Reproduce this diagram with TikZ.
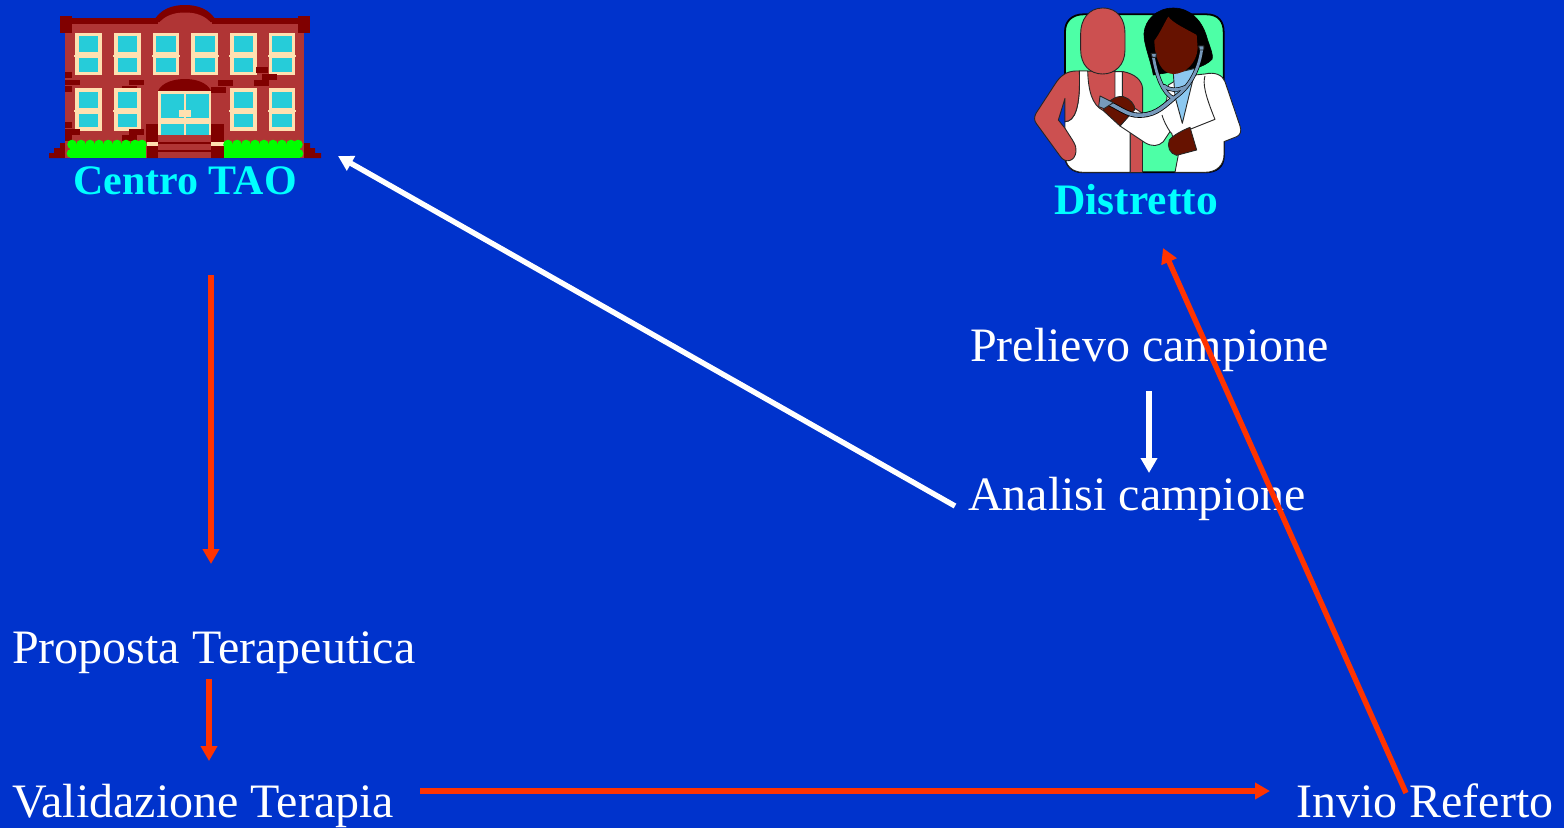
\documentclass[tikz,border=0pt]{standalone}
\usepackage{fontspec}
\setmainfont{Liberation Serif}
\usetikzlibrary{arrows.meta}
\definecolor{bgblue}{HTML}{0033CC}
\definecolor{arrred}{HTML}{FF3300}
\definecolor{labcyan}{HTML}{00FFFF}
\definecolor{brick}{HTML}{B03535}
\definecolor{darkbrick}{HTML}{800000}
\definecolor{glass}{HTML}{26CCD9}
\definecolor{cream}{HTML}{FFE0B0}
\definecolor{hedge}{HTML}{00FF00}
\definecolor{skin}{HTML}{CC5050}
\definecolor{darkskin}{HTML}{661200}
\definecolor{mint}{HTML}{4DFFA6}
\definecolor{shirt}{HTML}{8CC8F0}
\definecolor{steth}{HTML}{7799BB}
\tikzset{
  lab/.style={anchor=base west,inner sep=0pt,text=white,font=\fontsize{48}{48}\selectfont},
  head/.style={anchor=base,inner sep=0pt,text=labcyan,font=\fontsize{42}{42}\selectfont\bfseries},
  redarrow/.style={draw=arrred,line width=5.4pt,-{Triangle[length=15pt,width=16pt]}},
  whitearrow/.style={draw=white,line width=5.4pt,-{Triangle[length=15pt,width=16pt]}},
  ol/.style={draw=black!85,line width=0.9pt,line join=round}
}
\newcommand{\winpane}[2]{%
  \fill[cream] (#1,#2) rectangle ++(26.7,42.3);
  \fill[cream] (#1-0.7,#2+22) rectangle ++(28.1,2);
  \fill[glass] (#1+3.7,#2+3.3) rectangle ++(19.6,16.4);
  \fill[glass] (#1+3.7,#2+25.6) rectangle ++(19.6,13.4);
}
\begin{document}
\begin{tikzpicture}[x=1pt,y=-1pt]
\useasboundingbox (0,0) rectangle (1564,828);
\fill[bgblue] (0,0) rectangle (1564,828);
% Building
\begin{scope}
\fill[darkbrick] (49,158) -- (49,153) -- (54,153) -- (54,148) -- (60,148) -- (60,143) -- (310,143) -- (310,148) -- (315,148) -- (315,153) -- (321,153) -- (321,158) -- cycle;
\fill[brick] (65,22) rectangle (304,158);
\fill[darkbrick] (153,22) .. controls (160,9) and (172,5) .. (185,5) .. controls (198,5) and (210,9) .. (217,22) -- cycle;
\fill[brick] (158,24) .. controls (165,15) and (175,12.5) .. (185,12.5) .. controls (195,12.5) and (205,15) .. (212,24) -- cycle;
\fill[darkbrick] (60,18.3) rectangle (158,24);
\fill[darkbrick] (212,18.3) rectangle (310,24);
\fill[darkbrick] (60,16) rectangle (72,33);
\fill[darkbrick] (298,16) rectangle (310,33);
\foreach \wx in {75,114,152.7,191.3,230,268.7} {\winpane{\wx}{32.7}}
\foreach \wx in {75,114,230,268.7} {\winpane{\wx}{88.3}}
% bricks
\fill[darkbrick] (65,72) rectangle (72,78);
\fill[darkbrick] (65,80) rectangle (80,85);
\fill[darkbrick] (65,86) rectangle (72,92);
\fill[darkbrick] (129,80) rectangle (144,85);
\fill[darkbrick] (122,86) rectangle (137,88);
\fill[darkbrick] (256,67) rectangle (268,73);
\fill[darkbrick] (262,74) rectangle (277,80);
\fill[darkbrick] (254,80) rectangle (269,86);
\fill[darkbrick] (218,80) rectangle (233,86);
\fill[darkbrick] (211,87) rectangle (226,93);
\fill[darkbrick] (65,122) rectangle (72,128);
\fill[darkbrick] (65,129) rectangle (80,135);
\fill[darkbrick] (65,135) rectangle (72,141);
\fill[darkbrick] (129,129) rectangle (144,135);
\fill[darkbrick] (122,135) rectangle (137,141);
% door
\fill[darkbrick] (158,91) .. controls (162,82) and (175,79) .. (185,79) .. controls (195,79) and (207,82) .. (211,91) -- cycle;
\fill[cream] (158,91) rectangle (211,135);
\fill[glass] (161,94) rectangle (184,118);
\fill[glass] (186,94) rectangle (209,118);
\fill[glass] (161,124) rectangle (184,134.5);
\fill[glass] (186,124) rectangle (209,134.5);
\fill[cream] (179,110) rectangle (191,117);
% steps
\fill[brick] (158,135) rectangle (211,158);
\fill[darkbrick] (158,142) rectangle (211,144);
\fill[darkbrick] (158,150) rectangle (211,152);
\fill[darkbrick] (146,124) rectangle (158,142);
\fill[darkbrick] (211,124) rectangle (224,142);
\fill[cream] (147,142) rectangle (158,146);
\fill[cream] (211,142) rectangle (224,146);
\fill[darkbrick] (147,146) rectangle (158,158);
\fill[darkbrick] (211,146) rectangle (224,158);
% hedges
\fill[hedge] (70,145) rectangle (146,158);
\fill[hedge] (224,145) rectangle (300,158);
\foreach \hx in {72,81,90,99,108,117,126,135,142} {\fill[hedge] (\hx,144.5) circle (4.8);}
\foreach \hx in {228,237,246,255,264,273,282,291,298} {\fill[hedge] (\hx,144.5) circle (4.8);}
\fill[hedge] (71,153.5) circle (4.4);
\fill[hedge] (299,153.5) circle (4.4);
\end{scope}
% Doctor and patient
\begin{scope}[shift={(1020,0)},x=0.3333pt,y=-0.3333pt]
\filldraw[fill=mint,draw=black,line width=1.8pt] (190,43) -- (560,43) .. controls (595,43) and (611,65) .. (611,95) -- (611,470) .. controls (611,500) and (590,517) .. (555,517) -- (190,517) .. controls (155,517) and (135,495) .. (135,465) -- (135,95) .. controls (135,65) and (155,43) .. (190,43) -- cycle;
\fill[bgblue] (115,290) rectangle (134,390);
% patient: lower skin strip
\filldraw[fill=skin,ol] (330,380) -- (368,380) -- (368,517) -- (330,517) -- cycle;
% patient: torso skin
\filldraw[fill=skin,ol] (178,213) -- (310,215) .. controls (345,222) and (365,240) .. (368,265) -- (368,345) -- (330,400) -- (135,365) -- (135,290) -- cycle;
% vest
\filldraw[fill=white,ol] (178,213) -- (203,213) .. controls (205,270) and (215,315) .. (250,332) -- (285,300) -- (285,215) -- (307,215) -- (307,320) -- (330,385) -- (330,517) -- (190,517) .. controls (155,517) and (135,495) .. (135,465) -- (135,365) .. controls (165,365) and (182,320) .. (178,213) -- cycle;
% patient arm
\filldraw[fill=skin,ol] (178,213) .. controls (150,212) and (130,218) .. (110,245) -- (48,340) .. controls (42,352) and (42,362) .. (50,372) -- (120,468) .. controls (135,492) and (165,485) .. (168,455) .. controls (170,435) and (160,425) .. (135,385) -- (115,360) -- (135,295) -- (135,365) .. controls (165,365) and (182,320) .. (178,213) -- cycle;
% patient head
\filldraw[fill=skin,ol] (248,24) .. controls (295,24) and (315,60) .. (315,100) -- (315,150) .. controls (315,195) and (285,222) .. (248,222) .. controls (210,222) and (182,195) .. (182,150) -- (182,100) .. controls (182,60) and (205,24) .. (248,24) -- cycle;
% doctor hair
\filldraw[fill=black,draw=black,line width=0.6pt] (460,24) .. controls (510,24) and (545,60) .. (560,110) .. controls (565,130) and (582,165) .. (576,178) .. controls (565,190) and (545,200) .. (525,205) -- (400,225) .. controls (392,180) and (370,130) .. (372,100) .. controls (375,60) and (410,24) .. (460,24) -- cycle;
% doctor coat
\filldraw[fill=white,ol] (345,325) -- (375,345) -- (425,330) -- (440,300) -- (445,255) -- (470,240) -- (525,225) -- (555,222) .. controls (585,215) and (608,225) .. (615,245) -- (660,378) .. controls (666,395) and (660,405) .. (650,410) -- (612,425) -- (612,465) .. controls (612,495) and (590,517) .. (555,517) -- (465,517) -- (475,465) -- (455,400) -- (450,395) -- (430,425) .. controls (415,440) and (395,440) .. (375,428) -- (300,378) -- cycle;
\draw[ol] (555,228) .. controls (548,250) and (555,285) .. (585,358) -- (510,388);
\draw[ol] (426,345) .. controls (430,360) and (440,380) .. (450,395);
% shirt
\filldraw[fill=shirt,ol] (460,220) -- (527,205) -- (487,370) -- (465,290) -- cycle;
% doctor face
\fill[darkskin] (403,122) .. controls (420,100) and (435,65) .. (445,50) .. controls (460,70) and (495,85) .. (530,105) -- (533,145) .. controls (530,190) and (495,222) .. (460,222) .. controls (425,222) and (405,180) .. (403,122) -- cycle;
% hands
\filldraw[fill=darkskin,ol] (250,332) .. controls (255,310) and (285,285) .. (310,290) .. controls (330,295) and (345,315) .. (345,328) -- (300,378) -- cycle;
\filldraw[fill=darkskin,ol] (510,382) -- (530,450) -- (470,466) .. controls (450,462) and (440,440) .. (448,420) .. controls (460,405) and (490,390) .. (510,382) -- cycle;
% stethoscope
\foreach \wcol/\wwid/\mwid in {black/4.2pt/5.2pt,steth/2.8pt/3.6pt} {
  \draw[\wcol,line width=\wwid,line cap=round] (545,150) .. controls (535,220) and (500,270) .. (460,295);
  \draw[\wcol,line width=\wwid,line cap=round] (400,170) .. controls (410,230) and (430,280) .. (460,295);
  \draw[\wcol,line width=\wwid,line cap=round] (432,258) .. controls (450,272) and (470,272) .. (495,262);
  \draw[\wcol,line width=\mwid,line cap=round] (460,295) .. controls (425,325) and (400,350) .. (345,345) .. controls (310,340) and (280,310) .. (250,305);
}
\filldraw[fill=steth,ol] (240,288) -- (280,308) -- (252,326) -- (236,320) -- cycle;
\filldraw[fill=steth,ol] (393,160) -- (409,160) -- (408,172) -- (397,172) -- cycle;
\filldraw[fill=steth,ol] (536,138) -- (552,138) -- (551,150) -- (539,150) -- cycle;
\end{scope}
% Texts
\node[head] (centro) at (185,194) {Centro TAO};
\node[head,font=\fontsize{43.5}{44}\selectfont\bfseries] (distretto) at (1136,214) {Distretto};
\node[lab] (prelievo) at (970,361) {Prelievo campione};
\node[lab] (analisi) at (968,510) {Analisi campione};
\node[lab] (proposta) at (12,663) {Proposta Terapeutica};
\node[lab] (validazione) at (12,817) {Validazione Terapia};
\node[lab] (invio) at (1296,817) {Invio Referto};
% Connector ends
\coordinate (a1) at (955,506);
\coordinate (a2) at (338,156);
\coordinate (b1) at (211,275);
\coordinate (b2) at (211,564);
\coordinate (c1) at (209,679);
\coordinate (c2) at (209,761);
\coordinate (d1) at (420,791);
\coordinate (d2) at (1270,791);
\coordinate (e1) at (1406,793);
\coordinate (e2) at (1163,248);
\coordinate (f1) at (1149,391);
\coordinate (f2) at (1149,473);
\draw[whitearrow] (a1) -- (a2);
\draw[whitearrow] (f1) -- (f2);
\draw[redarrow] (b1) -- (b2);
\draw[redarrow] (c1) -- (c2);
\draw[redarrow] (d1) -- (d2);
\draw[redarrow] (e1) -- (e2);
\end{tikzpicture}
\end{document}
